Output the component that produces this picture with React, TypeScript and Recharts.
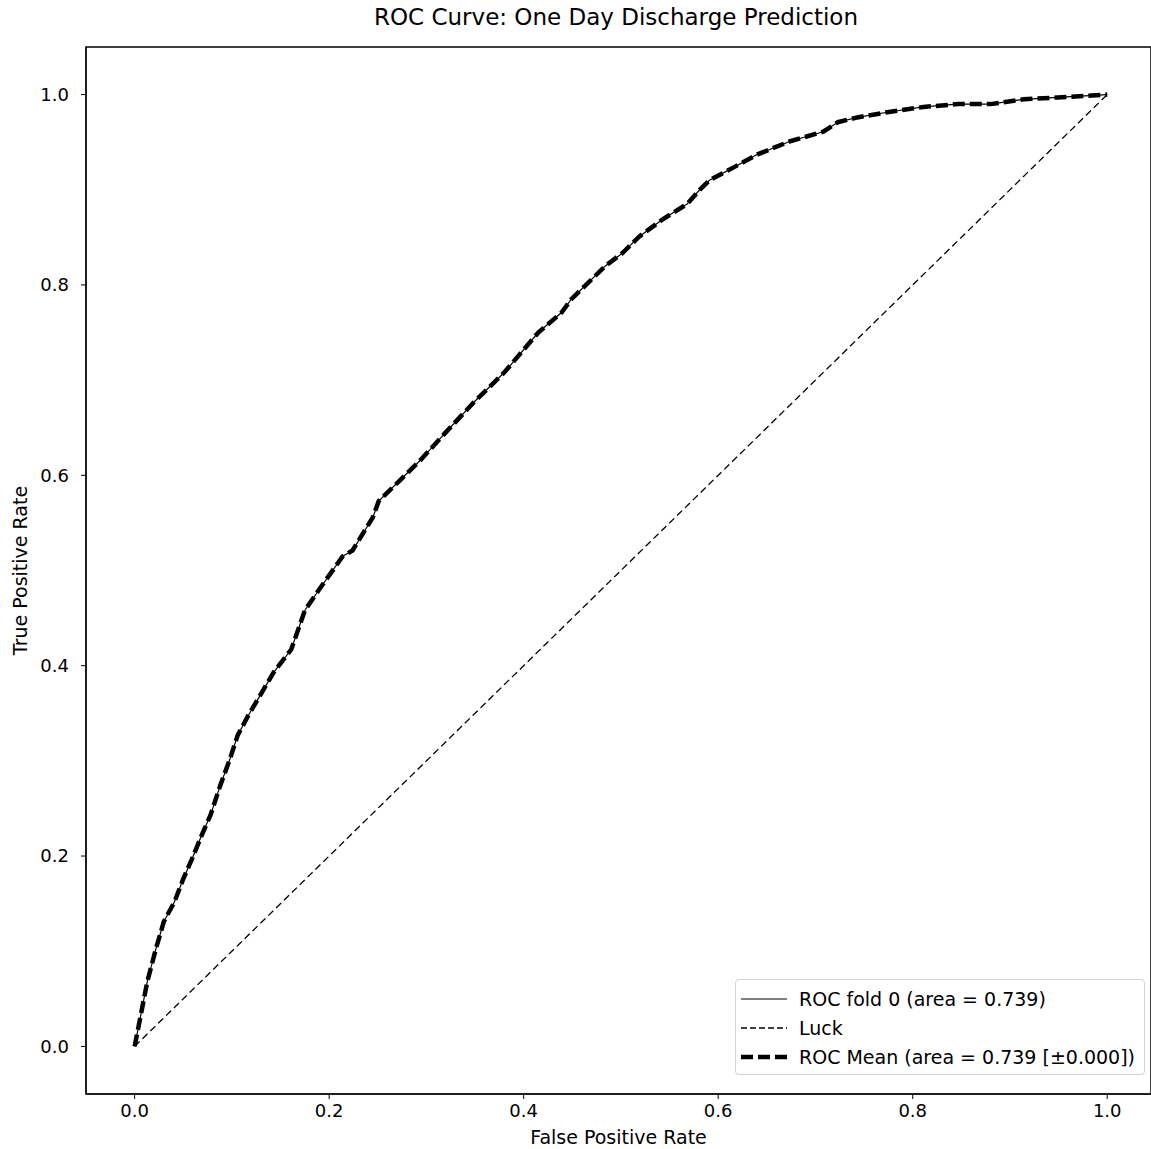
import React from 'react';
import { LineChart, Line, XAxis, YAxis, ReferenceArea } from 'recharts';

// ROC points
const fprValues = [
  0, 0.005, 0.013, 0.022, 0.03, 0.041, 0.05, 0.059, 0.069, 0.078, 0.088,
  0.098, 0.106, 0.117, 0.143, 0.161, 0.175, 0.189, 0.214, 0.224, 0.245,
  0.251, 0.272, 0.293, 0.318, 0.349, 0.38, 0.415, 0.439, 0.449, 0.484,
  0.501, 0.519, 0.543, 0.568, 0.581, 0.591, 0.615, 0.64, 0.674, 0.708,
  0.723, 0.743, 0.777, 0.811, 0.846, 0.88, 0.914, 0.949, 1.0,
];
const tprValues = [
  0, 0.026, 0.068, 0.103, 0.131, 0.152, 0.176, 0.197, 0.222, 0.243, 0.274,
  0.302, 0.327, 0.348, 0.393, 0.417, 0.458, 0.479, 0.515, 0.521, 0.556,
  0.573, 0.594, 0.615, 0.643, 0.677, 0.708, 0.75, 0.771, 0.785, 0.82,
  0.833, 0.851, 0.869, 0.885, 0.9, 0.91, 0.923, 0.937, 0.951, 0.961,
  0.971, 0.976, 0.982, 0.987, 0.99, 0.99, 0.995, 0.997, 1.0,
];
const luckFpr = [0, 1];
const luckTpr = [0, 1];

const xTicks = [0, 0.2, 0.4, 0.6, 0.8, 1.0];
const yTicks = [0, 0.2, 0.4, 0.6, 0.8, 1.0];

const legendLabels = [
  'ROC fold 0 (area = 0.739)',
  'Luck',
  'ROC Mean (area = 0.739 [\u00b10.000])',
];

const rocData = fprValues.map((x, i) => ({ fpr: x, tpr: tprValues[i] }));
const luckData = luckFpr.map((x, i) => ({ fpr: x, tpr: luckTpr[i] }));

const font = '"DejaVu Sans", sans-serif';

// legend handle styles, same order as legendLabels
const handles = [
  { width: 1.2, dash: undefined },
  { width: 1.3, dash: '6 3' },
  { width: 4.5, dash: '12 5' },
];

const ChartLegend = () => (
  <div
    style={{
      position: 'absolute',
      left: 735,
      top: 979,
      width: 410,
      height: 96,
      boxSizing: 'border-box',
      border: '1px solid #d4d4d4',
      borderRadius: 4,
      background: '#fff',
      padding: '4px 0 0 5px',
      fontFamily: font,
      fontSize: 19,
      color: '#000',
    }}
  >
    {legendLabels.map((label, i) => (
      <div
        key={label}
        style={{
          display: 'flex',
          alignItems: 'center',
          height: 29,
          whiteSpace: 'nowrap',
        }}
      >
        <svg width={46} height={10} style={{ marginRight: 12 }}>
          <line
            x1={0}
            y1={5}
            x2={46}
            y2={5}
            stroke="#000"
            strokeWidth={handles[i].width}
            strokeDasharray={handles[i].dash}
          />
        </svg>
        <span>{label}</span>
      </div>
    ))}
  </div>
);

export default function App() {
  return (
    <div
      style={{
        position: 'absolute',
        left: 0,
        top: 0,
        width: 1151,
        height: 1149,
        background: '#fff',
        fontFamily: font,
        overflow: 'hidden',
      }}
    >
      <div
        style={{
          position: 'absolute',
          left: 0,
          width: 1232,
          top: 4,
          textAlign: 'center',
          fontSize: 23,
          color: '#000',
        }}
      >
        ROC Curve: One Day Discharge Prediction
      </div>
      <LineChart
        width={1151}
        height={1149}
        margin={{ top: 47, right: 0, left: 0, bottom: 0 }}
        style={{ fontFamily: font }}
      >
        <XAxis
          type="number"
          dataKey="fpr"
          domain={[-0.05, 1.045]}
          allowDataOverflow={true}
          ticks={xTicks}
          tickFormatter={(v: number) => v.toFixed(1)}
          height={55}
          tickSize={5}
          tickMargin={5}
          stroke="#000"
          tick={{ fill: '#000', fontSize: 18 }}
          label={{
            value: 'False Positive Rate',
            position: 'insideBottom',
            offset: 5,
            style: { fill: '#000', fontSize: 19 },
          }}
        />
        <YAxis
          type="number"
          dataKey="tpr"
          domain={[-0.05, 1.05]}
          allowDataOverflow={true}
          ticks={yTicks}
          tickFormatter={(v: number) => v.toFixed(1)}
          width={86}
          tickSize={5}
          tickMargin={12}
          stroke="#000"
          tick={{ fill: '#000', fontSize: 18 }}
          label={{
            value: 'True Positive Rate',
            angle: -90,
            position: 'insideLeft',
            offset: 20,
            style: { fill: '#000', fontSize: 19, textAnchor: 'middle' },
          }}
        />
        <ReferenceArea
          x1={-0.05}
          x2={1.045}
          y1={-0.05}
          y2={1.05}
          fill="none"
          stroke="#000"
          strokeWidth={1.5}
          ifOverflow="visible"
        />
        <Line
          data={rocData}
          dataKey="tpr"
          name={legendLabels[0]}
          type="linear"
          stroke="#000"
          strokeWidth={1.2}
          dot={false}
          isAnimationActive={false}
        />
        <Line
          data={luckData}
          dataKey="tpr"
          name={legendLabels[1]}
          type="linear"
          stroke="#000"
          strokeWidth={1.3}
          strokeDasharray="7 4"
          dot={false}
          isAnimationActive={false}
        />
        <Line
          data={rocData}
          dataKey="tpr"
          name={legendLabels[2]}
          type="linear"
          stroke="#000"
          strokeWidth={4.5}
          strokeDasharray="12 5"
          dot={false}
          isAnimationActive={false}
        />
      </LineChart>
      <ChartLegend />
    </div>
  );
}
